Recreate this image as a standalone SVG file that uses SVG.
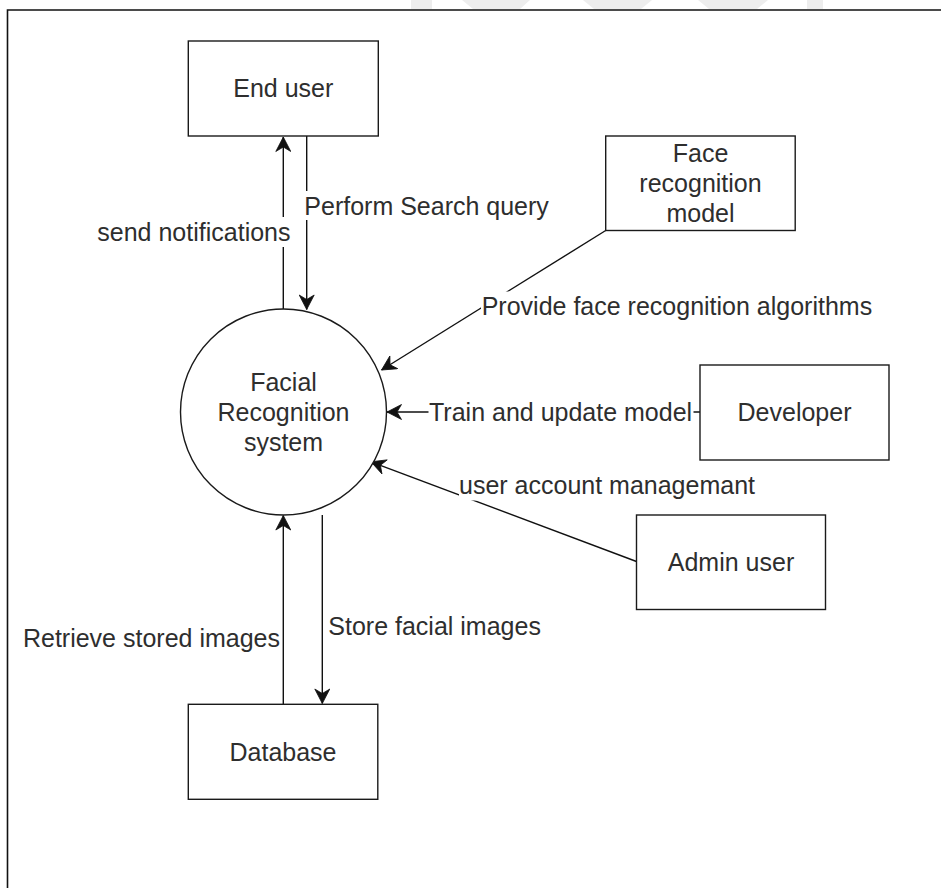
<svg xmlns="http://www.w3.org/2000/svg" width="941" height="888" viewBox="0 0 941 888">
  <style>
    .box { fill: #ffffff; stroke: #1a1a1a; stroke-width: 1.4; }
    .t { font-family: "Liberation Sans", Arial, sans-serif; font-size: 25px; fill: #2e2e2e; }
    .c { text-anchor: middle; }
    .e { text-anchor: end; }
    .edge { stroke: #111111; stroke-width: 1.4; fill: none; }
    .arrow { marker-end: url(#ah); }
    .lbg { fill: #ffffff; stroke: none; }
    .wm { fill: #ededed; stroke: none; }
    .frame { stroke: #111111; stroke-width: 1.6; fill: none; }
  </style>
  <defs>
    <marker id="ah" markerUnits="userSpaceOnUse" viewBox="-16 -8 17 16" refX="0" refY="0" markerWidth="17" markerHeight="16" orient="auto">
      <path d="M-14.5,-7.5 L0,0 L-14.5,7.5 L-10,0 Z" fill="#111111" stroke="#111111" stroke-width="0.8" stroke-linejoin="miter"/>
    </marker>
  </defs>
  <rect x="0" y="0" width="941" height="888" fill="#ffffff"/>
  <g id="watermark">
    <rect class="wm" x="411" y="0" width="21" height="9"/>
    <path class="wm" d="M462,0 L530,0 L520,9 L473,9 Z"/>
    <path class="wm" d="M583,0 L652,0 L641,9 L594,9 Z"/>
    <path class="wm" d="M698,0 L768,0 L757,9 L709,9 Z"/>
    <rect class="wm" x="807" y="0" width="16" height="9"/>
  </g>
  <g id="frame">
    <path class="frame" d="M7.5,888 L7.5,10 L941,10"/>
  </g>
  <g id="connectors">
    <line class="edge arrow" x1="283.3" y1="309" x2="283.3" y2="137"/>
    <line class="edge arrow" x1="306.7" y1="136" x2="306.7" y2="309.5"/>
    <line class="edge arrow" x1="605.7" y1="230.5" x2="381.5" y2="370"/>
    <line class="edge arrow" x1="700" y1="412" x2="387" y2="412"/>
    <line class="edge arrow" x1="636.5" y1="561.5" x2="371" y2="461.8"/>
    <line class="edge arrow" x1="283.3" y1="704" x2="283.3" y2="515.5"/>
    <line class="edge arrow" x1="322.3" y1="515" x2="322.3" y2="703.5"/>
    <rect class="lbg" x="97" y="217" width="194" height="30"/>
    <text class="t e" x="290.5" y="240.5">send notifications</text>
    <rect class="lbg" x="303" y="191" width="248" height="29"/>
    <text class="t" x="304.3" y="214.5">Perform Search query</text>
    <rect class="lbg" x="481" y="291.5" width="392" height="29"/>
    <text class="t" x="481.7" y="315">Provide face recognition algorithms</text>
    <rect class="lbg" x="428.5" y="398" width="265" height="28"/>
    <text class="t" x="429" y="420.5">Train and update model</text>
    <rect class="lbg" x="459" y="471.5" width="298" height="29"/>
    <text class="t" x="459" y="494">user account managemant</text>
    <text class="t e" x="280" y="646.5">Retrieve stored images</text>
    <text class="t" x="328.3" y="635">Store facial images</text>
  </g>
  <g id="end-user">
    <rect class="box" x="188.3" y="41" width="190" height="95"/>
    <text class="t c" x="283.3" y="97.2">End user</text>
  </g>
  <g id="face-recognition-model">
    <rect class="box" x="605.7" y="136" width="189.5" height="94.5"/>
    <text class="t c" x="700.5" y="162.3">Face</text>
    <text class="t c" x="700.5" y="192.3">recognition</text>
    <text class="t c" x="700.5" y="222.3">model</text>
  </g>
  <g id="facial-recognition-system">
    <circle class="box" cx="283.5" cy="412" r="103"/>
    <text class="t c" x="283.5" y="390.8">Facial</text>
    <text class="t c" x="283.5" y="420.8">Recognition</text>
    <text class="t c" x="283.5" y="450.8">system</text>
  </g>
  <g id="developer">
    <rect class="box" x="700" y="365" width="189" height="95"/>
    <text class="t c" x="794.5" y="421">Developer</text>
  </g>
  <g id="admin-user">
    <rect class="box" x="636.5" y="515" width="189" height="94.5"/>
    <text class="t c" x="731" y="571">Admin user</text>
  </g>
  <g id="database">
    <rect class="box" x="188.3" y="704.3" width="189.5" height="95"/>
    <text class="t c" x="283" y="760.5">Database</text>
  </g>
</svg>
